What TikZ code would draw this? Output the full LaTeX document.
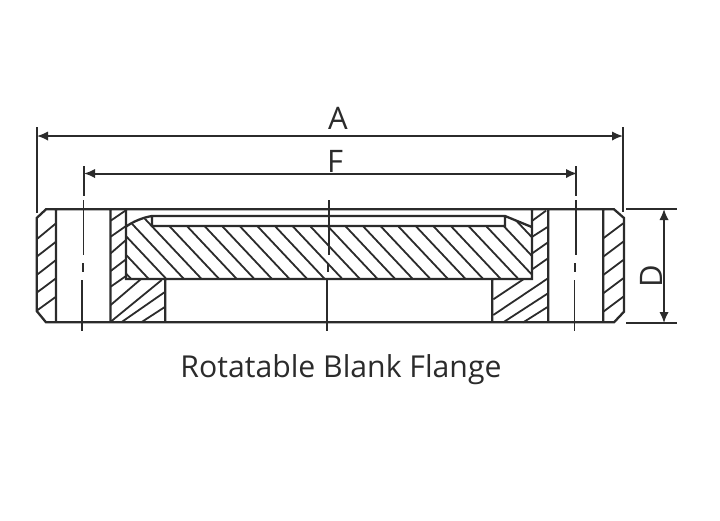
\documentclass[tikz,border=0pt]{standalone}
\usepackage{fontspec}
\usepackage{xcolor}
\usetikzlibrary{arrows.meta}
\setmainfont{Open Sans}
\definecolor{ink}{HTML}{2B2B2B}
\tikzset{
    body/.style={line width=2.3pt, color=ink},
    hatch/.style={line width=1.8pt, color=ink},
    axis/.style={line width=1.9pt, color=ink},
    dim/.style={line width=2pt, color=ink, {Latex[length=11pt,width=9.5pt]}-{Latex[length=11pt,width=9.5pt]}},
    ext/.style={line width=2pt, color=ink},
    lbl/.style={text=ink, inner sep=0pt, font=\fontsize{31}{31}\selectfont},
}
\begin{document}
\begin{tikzpicture}[x=1pt, y=-1pt]
    \useasboundingbox (0, 0) rectangle (720, 520);

    \node[lbl] (a) at (338, 118) {A};
    \node[lbl] (f) at (335, 161) {F};
    \node[lbl, rotate=90] (d) at (651, 276) {D};
    \node[text=ink, inner sep=0pt, font=\fontsize{30.2}{30.2}\selectfont] (title) at (341, 369.5) {Rotatable Blank Flange};

    \coordinate (al) at (37, 136);
    \coordinate (ar) at (623, 136);
    \coordinate (fl) at (84, 173.5);
    \coordinate (fr) at (577, 173.5);
    \coordinate (dt) at (664, 209);
    \coordinate (db) at (664, 323);

    \draw[dim] (al) -- (ar);
    \draw[dim] (fl) -- (fr);
    \draw[dim] (dt) -- (db);

    \draw[ext]
    (36.7, 127) -- (36.7, 212.5)
    (623, 127) -- (623, 212)
    (626, 209) -- (677, 209)
    (626, 323) -- (677, 323);

    % hole and middle axes
    \draw[axis]
    (84, 166) -- (84, 196) (83.5, 200) -- (83.5, 255) (83, 263) -- (83, 272) (82, 280) -- (82, 331)
    (328.7, 200) -- (328.7, 255) (328, 264) -- (328, 272) (327.3, 279) -- (327.3, 331)
    (575.7, 166) -- (575.7, 196) (575.7, 200) -- (575.7, 255) (575, 263) -- (575, 272) (574.5, 280) -- (574.5, 331);

    % outline
    \draw[body]
    (46, 209.3) -- (614, 209.3) -- (624, 218) -- (624, 311.7) -- (614, 322.3) -- (46, 322.3) -- (36.7, 311) -- (36.7, 218) -- cycle
    (56, 209.3) -- (56, 322.3)
    (110.5, 209.3) -- (110.5, 322.3)
    (548.3, 209.3) -- (548.3, 322.3)
    (603.3, 209.3) -- (603.3, 322.3)
    (126, 209.3) -- (126, 279) -- (532, 279) -- (532, 209.3)
    (165.3, 279) -- (165.3, 322.3)
    (492.3, 279) -- (492.3, 322.3)
    (126, 226.7) .. controls (133, 221.5) and (143, 217.5) .. (152, 216) -- (505, 216) -- (531.7, 227)
    (152, 216) -- (152, 226) -- (505, 226) -- (505, 216);

    % blank hatching
    \begin{scope}
        \clip (126, 226.7) -- (152, 216) -- (152, 226) -- (505, 226) -- (505, 216) -- (532, 228) -- (532, 279) -- (126, 279) -- cycle;
        \foreach \k in {-13, ..., 12} {
            \draw[hatch] ({310 + 17.6*\k - 15}, 210) -- ({310 + 17.6*\k + 50}, 279);
        }
    \end{scope}

    % ring hatching
    \draw[hatch]
    (36.7, 239.3) -- (56, 223.3)
    (36.7, 256.7) -- (56, 241.7)
    (36.7, 275) -- (56, 260)
    (36.7, 292.7) -- (56, 278.3)
    (36.7, 310.7) -- (56, 296.7)
    (110.7, 220.7) -- (125.3, 210.7)
    (110.7, 236.7) -- (126, 226)
    (110.7, 253.3) -- (126, 240)
    (110.7, 271) -- (126, 259.3)
    (110.7, 286.7) -- (126, 276)
    (110.7, 305) -- (140.7, 279.3)
    (110.7, 321.7) -- (161.7, 280)
    (121.7, 322) -- (165.3, 291.7)
    (141.7, 322) -- (165.3, 306.7)
    (532.3, 220.7) -- (546, 210.7)
    (532.3, 236.7) -- (548, 226.7)
    (532.3, 253.3) -- (548, 242.3)
    (532.3, 269.3) -- (548, 258.3)
    (493.3, 299.3) -- (523.3, 279.3)
    (493.3, 315) -- (548, 278.3)
    (503.3, 322.3) -- (548, 293.3)
    (523.3, 322.3) -- (548, 306.7)
    (603.3, 238.3) -- (623.3, 223.3)
    (603.3, 256.7) -- (623.3, 241.7)
    (603.3, 275) -- (623.3, 260)
    (603.3, 293.3) -- (623.3, 278.3)
    (603.3, 311.7) -- (623.3, 296.7);
\end{tikzpicture}
\end{document}
